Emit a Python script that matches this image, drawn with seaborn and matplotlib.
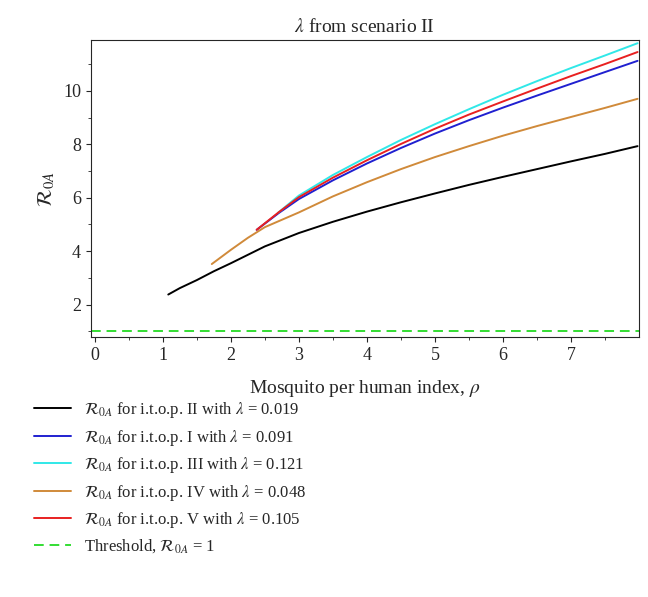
import matplotlib
matplotlib.use("Agg")
import matplotlib.pyplot as plt
import seaborn as sns
import pandas as pd

# values
rho_ii = [1.08, 1.25, 1.5, 1.75, 2.0, 2.5, 3.0, 3.5, 4.0, 4.5, 5.0, 5.5, 6.0, 6.5, 7.0, 7.5, 7.98]
r0a_ii = [2.38, 2.62, 2.92, 3.25, 3.55, 4.18, 4.68, 5.1, 5.48, 5.83, 6.16, 6.48, 6.78, 7.07, 7.36, 7.64, 7.93]
rho_iv = [1.72, 2.0, 2.25, 2.5, 3.0, 3.5, 4.0, 4.5, 5.0, 5.5, 6.0, 6.5, 7.0, 7.5, 7.98]
r0a_iv = [3.52, 4.05, 4.5, 4.9, 5.45, 6.05, 6.58, 7.07, 7.52, 7.93, 8.32, 8.68, 9.02, 9.36, 9.7]
rho_i = [2.38, 2.7, 3.0, 3.5, 4.0, 4.5, 5.0, 5.5, 6.0, 6.5, 7.0, 7.5, 7.98]
r0a_i = [4.8, 5.42, 5.95, 6.65, 7.28, 7.86, 8.4, 8.9, 9.37, 9.82, 10.26, 10.7, 11.12]
rho_v = [2.38, 2.7, 3.0, 3.5, 4.0, 4.5, 5.0, 5.5, 6.0, 6.5, 7.0, 7.5, 7.98]
r0a_v = [4.8, 5.45, 6.02, 6.75, 7.4, 8.01, 8.58, 9.11, 9.6, 10.08, 10.55, 11.0, 11.45]
rho_iii = [2.7, 3.0, 3.5, 4.0, 4.5, 5.0, 5.5, 6.0, 6.5, 7.0, 7.5, 7.98]
r0a_iii = [5.45, 6.08, 6.85, 7.52, 8.16, 8.75, 9.31, 9.85, 10.36, 10.85, 11.32, 11.78]

labels = [r"$\mathcal{R}_{0A}$ for i.t.o.p. II with $\lambda$ = 0.019",
          r"$\mathcal{R}_{0A}$ for i.t.o.p. I with $\lambda$ = 0.091",
          r"$\mathcal{R}_{0A}$ for i.t.o.p. III with $\lambda$ = 0.121",
          r"$\mathcal{R}_{0A}$ for i.t.o.p. IV with $\lambda$ = 0.048",
          r"$\mathcal{R}_{0A}$ for i.t.o.p. V with $\lambda$ = 0.105",
          r"Threshold, $\mathcal{R}_{0A}$ = 1"]

sns.set_style("ticks")
plt.rcParams["font.family"] = ["Liberation Serif", "DejaVu Serif"]
plt.rcParams["mathtext.fontset"] = "stix"

fig = plt.figure(figsize=(6.48, 5.97), dpi=100)
ax = fig.add_axes([0.14, 0.435, 0.846, 0.498])

series = [(rho_ii, r0a_ii, "black"), (rho_i, r0a_i, "#2020d0"),
          (rho_iii, r0a_iii, "#30e8e8"), (rho_iv, r0a_iv, "#d08a3a"),
          (rho_v, r0a_v, "#e82020")]
for (x, y, c), lab in zip(series, labels):
    sns.lineplot(x=x, y=y, ax=ax, color=c, lw=1.4, label=lab)
ax.axhline(1, color="#33dd33", ls=(0, (5, 3)), lw=1.4, label=labels[-1])

ax.set_xlim(-0.06, 8.0)
ax.set_ylim(0.78, 11.9)
ax.set_xticks(range(0, 8))
ax.set_xticks([i + 0.5 for i in range(8)], minor=True)
ax.set_yticks([2, 4, 6, 8, 10])
ax.set_yticks([1, 3, 5, 7, 9, 11], minor=True)
ax.tick_params(labelsize=13)
ax.set_xlabel(r"Mosquito per human index, $\rho$", fontsize=14, labelpad=10)
ax.set_ylabel(r"$\mathcal{R}_{0A}$", fontsize=15)
ax.set_title(r"$\lambda$ from scenario II", fontsize=14)
for s in ax.spines.values():
    s.set_linewidth(0.8)

h, l = ax.get_legend_handles_labels()
ax.legend(h, l, loc="upper left", bbox_to_anchor=(0.03, 0.355),
          bbox_transform=fig.transFigure, frameon=False, fontsize=12,
          handlelength=2.2, labelspacing=0.45)

fig.savefig("out.png", dpi=100)
